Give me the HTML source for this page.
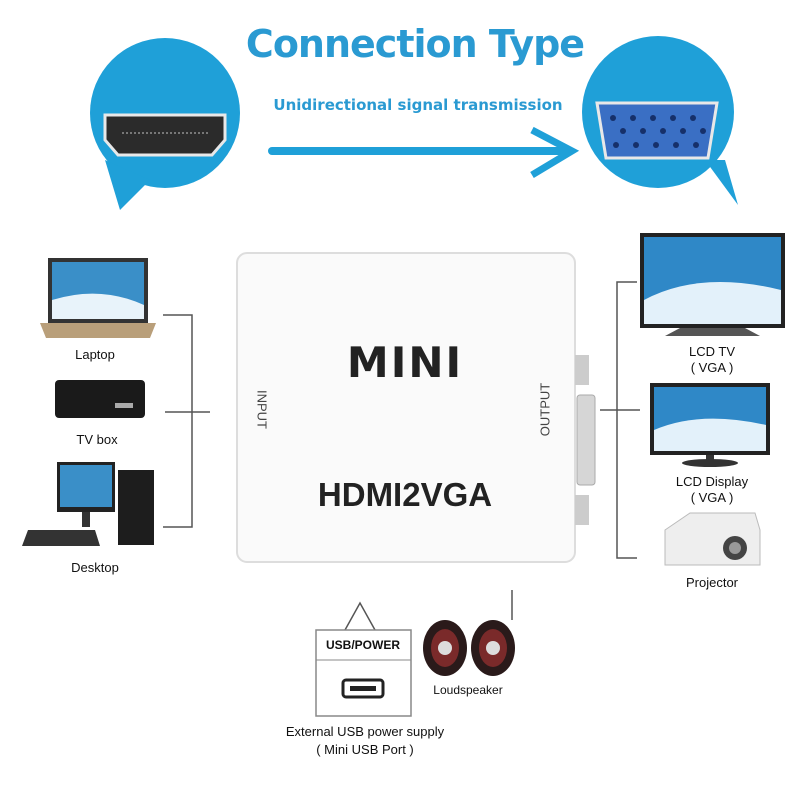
<!DOCTYPE html>
<html><head><style>
body{margin:0;width:809px;height:805px;background:#fff;position:relative;overflow:hidden;font-family:"Liberation Sans",Arial,sans-serif}
.t{position:absolute;white-space:nowrap;transform:translateX(-50%);color:#111;font-size:13px}
</style></head><body>
<svg width="809" height="805" style="position:absolute;left:0;top:0">
<!-- bubbles -->
<circle cx="165" cy="113" r="75" fill="#1fa0d8"/>
<polygon points="105,160 150,180 120,210" fill="#1fa0d8"/>
<circle cx="658" cy="112" r="76" fill="#1fa0d8"/>
<polygon points="705,160 725,160 738,205" fill="#1fa0d8"/>
<!-- hdmi -->
<path d="M105,115 H225 V140 L212,155 H118 L105,140 Z" fill="#2b2b2b" stroke="#e8e8e8" stroke-width="3"/>
<line x1="122" y1="133" x2="208" y2="133" stroke="#777" stroke-width="2" stroke-dasharray="2,2"/>
<!-- vga -->
<path d="M597,103 H717 L708,158 H606 Z" fill="#3a6fc4" stroke="#e8e8e8" stroke-width="3"/>
<g fill="#16306a">
<circle cx="613" cy="118" r="3"/><circle cx="633" cy="118" r="3"/><circle cx="653" cy="118" r="3"/><circle cx="673" cy="118" r="3"/><circle cx="693" cy="118" r="3"/>
<circle cx="623" cy="131" r="3"/><circle cx="643" cy="131" r="3"/><circle cx="663" cy="131" r="3"/><circle cx="683" cy="131" r="3"/><circle cx="703" cy="131" r="3"/>
<circle cx="616" cy="145" r="3"/><circle cx="636" cy="145" r="3"/><circle cx="656" cy="145" r="3"/><circle cx="676" cy="145" r="3"/><circle cx="696" cy="145" r="3"/></g>
<!-- arrow -->
<line x1="272" y1="151" x2="565" y2="151" stroke="#1fa0d8" stroke-width="8" stroke-linecap="round"/>
<polyline points="532,130 572,151 532,175" fill="none" stroke="#1fa0d8" stroke-width="7"/>
<!-- device -->
<rect x="237" y="253" width="338" height="309" rx="10" fill="#fafafa" stroke="#ddd" stroke-width="2"/>
<rect x="575" y="355" width="14" height="30" fill="#ccc"/>
<rect x="577" y="395" width="18" height="90" rx="3" fill="#d6d6d6" stroke="#aaa"/>
<rect x="575" y="495" width="14" height="30" fill="#ccc"/>
<!-- left brackets -->
<g stroke="#555" stroke-width="1.5" fill="none">
<polyline points="163,315 192,315 192,527 163,527"/>
<line x1="165" y1="412" x2="210" y2="412"/>
<polyline points="637,282 617,282 617,558 637,558"/>
<line x1="600" y1="410" x2="640" y2="410"/>
<polyline points="345,630 360,603 375,630"/>
<line x1="512" y1="590" x2="512" y2="620"/>
</g>
<!-- laptop -->
<rect x="48" y="258" width="100" height="65" fill="#333"/>
<rect x="52" y="262" width="92" height="57" fill="#3a8fc8"/>
<path d="M52,300 Q100,285 144,305 V319 H52Z" fill="#e8f3fa"/>
<polygon points="40,323 156,323 150,338 46,338" fill="#b99f7a"/>
<!-- tv box -->
<rect x="55" y="380" width="90" height="38" rx="4" fill="#1a1a1a"/>
<rect x="115" y="403" width="18" height="5" fill="#aaa"/>
<!-- desktop -->
<rect x="57" y="462" width="58" height="50" fill="#222"/>
<rect x="60" y="465" width="52" height="42" fill="#3a8fc8"/>
<rect x="82" y="512" width="8" height="15" fill="#333"/>
<rect x="118" y="470" width="36" height="75" fill="#1d1d1d"/>
<polygon points="28,530 95,530 100,546 22,546" fill="#333"/>
<!-- LCD TV -->
<rect x="640" y="233" width="145" height="95" fill="#222"/>
<rect x="644" y="237" width="137" height="87" fill="#2f88c7"/>
<path d="M644,300 Q700,270 781,290 V324 H644Z" fill="#e3f1fa"/>
<polygon points="680,328 745,328 760,336 665,336" fill="#555"/>
<!-- LCD display -->
<rect x="650" y="383" width="120" height="72" fill="#222"/>
<rect x="654" y="387" width="112" height="64" fill="#2f88c7"/>
<path d="M654,430 Q700,410 766,425 V451 H654Z" fill="#e3f1fa"/>
<rect x="706" y="455" width="8" height="6" fill="#333"/>
<ellipse cx="710" cy="463" rx="28" ry="4" fill="#333"/>
<!-- projector -->
<path d="M665,530 L690,513 H755 L760,530 V565 H665 Z" fill="#eee" stroke="#bbb"/>
<circle cx="735" cy="548" r="12" fill="#444"/><circle cx="735" cy="548" r="6" fill="#999"/>
<!-- usb box -->
<rect x="316" y="630" width="95" height="86" fill="#fff" stroke="#888" stroke-width="1.5"/>
<line x1="316" y1="660" x2="411" y2="660" stroke="#888"/>
<rect x="343" y="680" width="40" height="17" rx="3" fill="#fff" stroke="#222" stroke-width="3"/>
<rect x="350" y="686" width="26" height="5" fill="#222"/>
<!-- speakers -->
<ellipse cx="445" cy="648" rx="22" ry="28" fill="#2a1a1a"/><ellipse cx="445" cy="648" rx="14" ry="19" fill="#7a2a2a"/><circle cx="445" cy="648" r="7" fill="#ddd"/>
<ellipse cx="493" cy="648" rx="22" ry="28" fill="#2a1a1a"/><ellipse cx="493" cy="648" rx="14" ry="19" fill="#7a2a2a"/><circle cx="493" cy="648" r="7" fill="#ddd"/>
</svg>
<div class="t" style="left:415px;top:22px;font-size:38px;font-weight:bold;color:#2a9ad2;font-family:'DejaVu Sans',sans-serif;letter-spacing:-1px">Connection Type</div>
<div class="t" style="left:418px;top:96px;font-size:15px;font-weight:bold;color:#2a9ad2;font-family:'DejaVu Sans',sans-serif">Unidirectional signal transmission</div>
<div class="t" style="left:405px;top:338px;font-size:42px;font-weight:900;color:#222;font-family:'DejaVu Sans',sans-serif;letter-spacing:2px">MINI</div>
<div class="t" style="left:405px;top:476px;font-size:33px;font-weight:bold;color:#222">HDMI2VGA</div>
<div class="t" style="left:262px;top:402px;transform:translateX(-50%) rotate(90deg);font-size:13px;color:#444">INPUT</div>
<div class="t" style="left:545px;top:402px;transform:translateX(-50%) rotate(-90deg);font-size:13px;color:#444">OUTPUT</div>
<div class="t" style="left:95px;top:347px">Laptop</div>
<div class="t" style="left:97px;top:432px">TV box</div>
<div class="t" style="left:95px;top:560px">Desktop</div>
<div class="t" style="left:712px;top:344px">LCD TV</div>
<div class="t" style="left:712px;top:360px">( VGA )</div>
<div class="t" style="left:712px;top:474px">LCD Display</div>
<div class="t" style="left:712px;top:490px">( VGA )</div>
<div class="t" style="left:712px;top:575px">Projector</div>
<div class="t" style="left:363px;top:638px;font-size:12px;font-weight:bold">USB/POWER</div>
<div class="t" style="left:468px;top:683px;font-size:12px">Loudspeaker</div>
<div class="t" style="left:365px;top:724px">External USB power supply</div>
<div class="t" style="left:365px;top:742px">( Mini USB Port )</div>
</body></html>
